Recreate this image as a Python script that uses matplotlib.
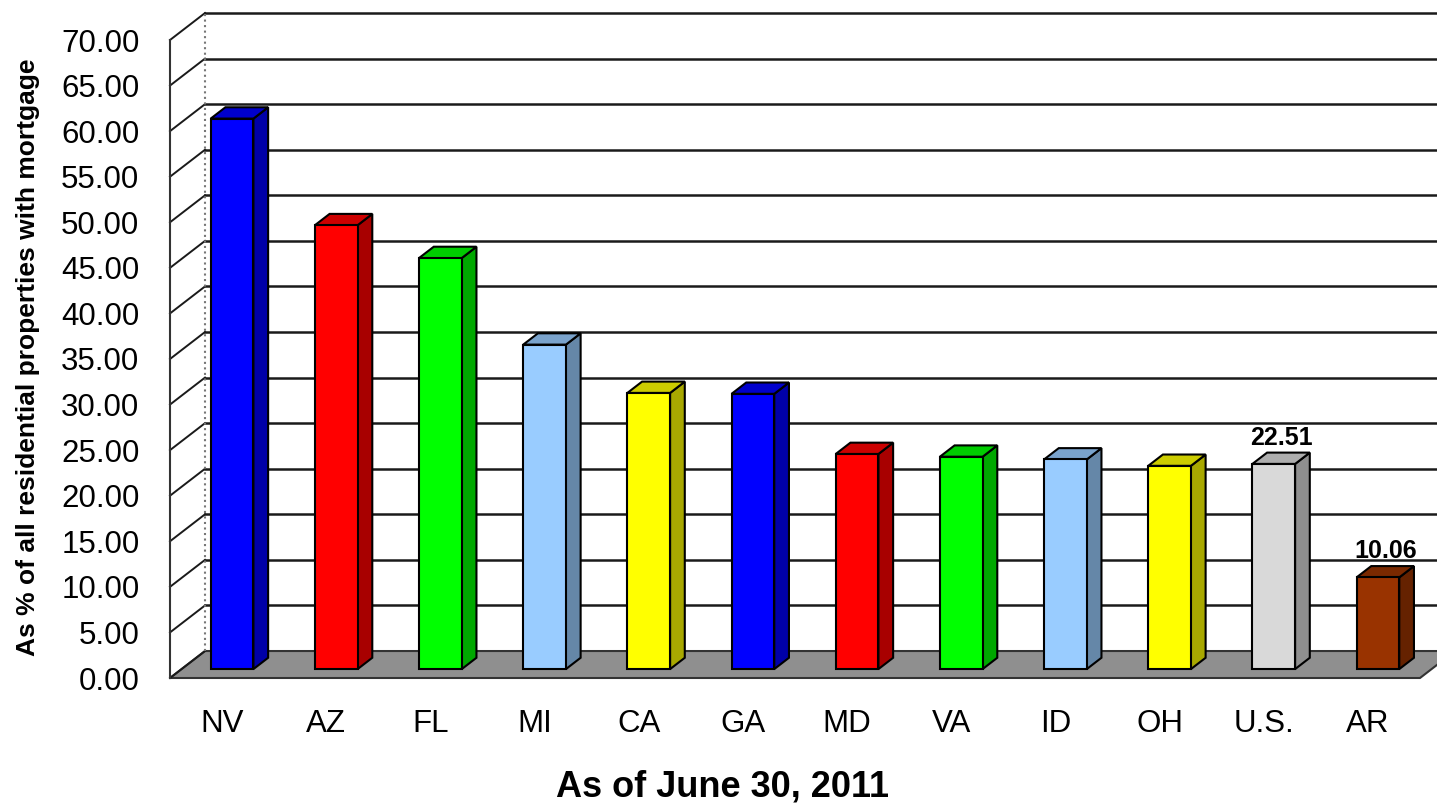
import numpy as np
import matplotlib.pyplot as plt
from matplotlib.patches import Polygon
from matplotlib.colors import to_rgb

plt.rcParams['font.family'] = ['Liberation Sans', 'DejaVu Sans']

states = ['NV', 'AZ', 'FL', 'MI', 'CA', 'GA', 'MD', 'VA', 'ID', 'OH', 'U.S.', 'AR']
values = [60.4, 48.7, 45.1, 35.6, 30.3, 30.2, 23.6, 23.3, 23.0, 22.3, 22.51, 10.06]
shown_labels = {'U.S.': '22.51', 'AR': '10.06'}
colors = ['#0000FF', '#FF0000', '#00FF00', '#99CCFF', '#FFFF00', '#0000FF',
          '#FF0000', '#00FF00', '#99CCFF', '#FFFF00', '#D9D9D9', '#993300']
yticks = np.arange(0, 75, 5)

# depth of the fake 3d box, in data units
DX = 0.336
DY = 2.96


def proj(x, y, f):
    return (x + f * DX, y + f * DY)


def shade(c, k):
    r, g, b = to_rgb(c)
    return (r * k, g * k, b * k)


fig = plt.figure(figsize=(14.37, 8.05), dpi=100)
ax = fig.add_axes([170 / 1437, 127 / 805, 1250 / 1437, 638 / 805])
ax.set_xlim(0, 12)
ax.set_ylim(0, 70)
for s in ax.spines.values():
    s.set_visible(False)
ax.patch.set_alpha(0)

n = len(states)

# floor
floor = [proj(0, 0, 0), proj(n, 0, 0), proj(n, 0, 1), proj(0, 0, 1)]
ax.add_patch(Polygon(floor, closed=True, facecolor='#8f8f8f', edgecolor='#333333',
                     lw=1.5, clip_on=False, zorder=1))

# back wall gridlines and left wall
for y in yticks:
    x0, y0 = proj(0, y, 1)
    x1, y1 = proj(n + 1, y, 1)
    if y > 0:
        ax.plot([x0, x1], [y0, y1], color='#1a1a1a', lw=1.8, clip_on=False, zorder=2)
    a = proj(0, y, 0)
    ax.plot([a[0], x0], [a[1], y0], color='#1a1a1a', lw=1.4, clip_on=False, zorder=2)
b0 = proj(0, 0, 1)
b1 = proj(0, 70, 1)
ax.plot([b0[0], b1[0]], [b0[1], b1[1]], color='#777777', lw=1.5, ls=':', clip_on=False, zorder=2)
ax.plot([0, 0], [0, 70], color='#333333', lw=1.5, clip_on=False, zorder=2)

# bars
f0, f1 = 0.33, 0.75
for i, (st, v, c) in enumerate(zip(states, values, colors)):
    x0 = i + 0.28
    x1 = i + 0.69
    front = [proj(x0, 0, f0), proj(x1, 0, f0), proj(x1, v, f0), proj(x0, v, f0)]
    side = [proj(x1, 0, f0), proj(x1, 0, f1), proj(x1, v, f1), proj(x1, v, f0)]
    top = [proj(x0, v, f0), proj(x1, v, f0), proj(x1, v, f1), proj(x0, v, f1)]
    ax.add_patch(Polygon(side, facecolor=shade(c, 0.66), edgecolor='black', lw=1.5,
                         clip_on=False, zorder=3))
    ax.add_patch(Polygon(top, facecolor=shade(c, 0.8), edgecolor='black', lw=1.5,
                         clip_on=False, zorder=3))
    ax.add_patch(Polygon(front, facecolor=c, edgecolor='black', lw=1.5,
                         clip_on=False, zorder=4))
    if st in shown_labels:
        tx, ty = proj((x0 + x1) / 2, v, 0.55)
        ax.text(tx, ty + 0.9, shown_labels[st], ha='center', va='bottom',
                fontsize=18, fontweight='bold', zorder=5)

ax.set_yticks(yticks)
ax.set_yticklabels([f'{t:.2f}' for t in yticks], fontsize=22.5)
ax.set_xticks(np.arange(n) + 0.5)
ax.set_xticklabels(states, fontsize=22.5)
ax.tick_params(axis='y', length=0, pad=22)
ax.tick_params(axis='x', length=0, pad=22)

fig.text(28 / 1437, 1 - 357 / 805, 'As % of all residential properties with mortgage',
         rotation=90, ha='center', va='center', fontsize=19, fontweight='bold')
fig.text(722 / 1437, 1 - 787 / 805, 'As of June 30, 2011', ha='center', va='center',
         fontsize=26, fontweight='bold')

fig.savefig('out.png', dpi=100)
